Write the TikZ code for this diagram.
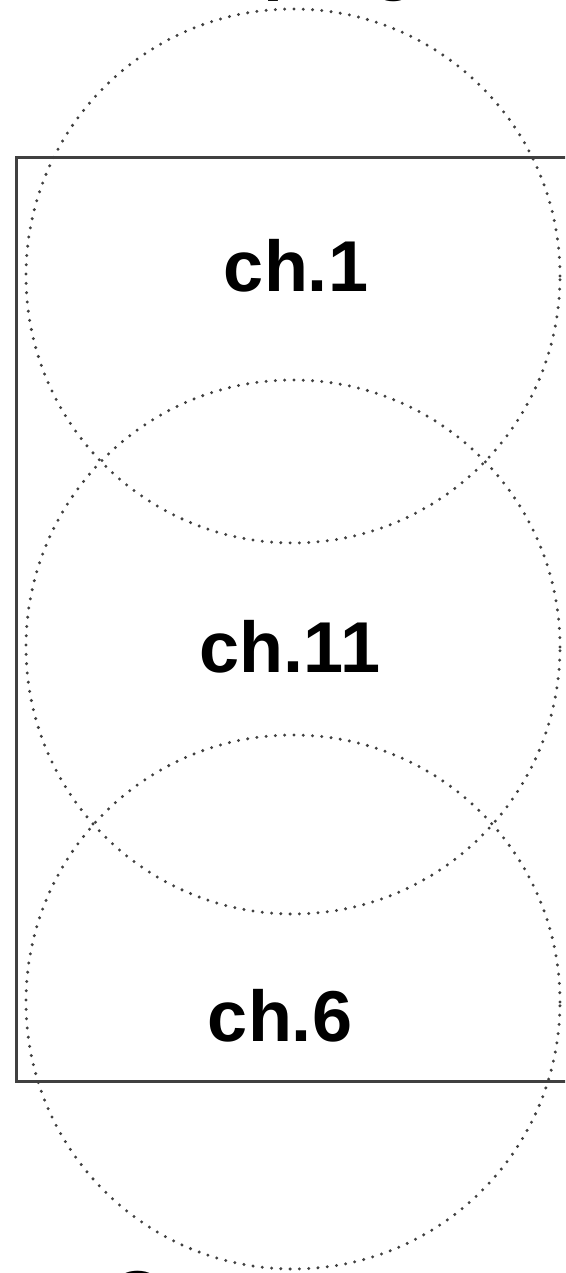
\documentclass[tikz,border=0pt]{standalone}
\usepackage{fontspec}
\setmainfont{Liberation Sans}
\tikzset{
  cell/.style={draw=black!75, line width=3.3pt, line cap=round, dash pattern=on 0pt off 9.3pt},
  chlabel/.style={anchor=base, inner sep=0pt, font=\fontsize{72}{72}\selectfont\bfseries},
}
\begin{document}
\begin{tikzpicture}[x=1pt, y=1pt]
    \useasboundingbox (0,0) rectangle (565,1273);
    \clip (0,0) rectangle (565,1273);

    % cut-off lettering above and below
    \node[chlabel, anchor=base west] (toptext) at (263,1286) {p};
    \node[chlabel, anchor=base west] (toptextb) at (372,1286) {g};
    \node[chlabel, anchor=base west] (bottext) at (110,-48.5) {C};

    % floor outline
    \draw[line width=3pt, black!75] (16,191) rectangle (640,1115);

    % coverage of each access point
    \draw[cell] (293,997) circle (267);
    \draw[cell] (293,626) circle (267);
    \draw[cell] (293,271) circle (267);

    % channel labels
    \node[chlabel] (ch1) at (296,981) {ch.1};
    \node[chlabel] (ch11) at (290,600) {ch.11};
    \node[chlabel] (ch6) at (280,231) {ch.6};
\end{tikzpicture}
\end{document}
